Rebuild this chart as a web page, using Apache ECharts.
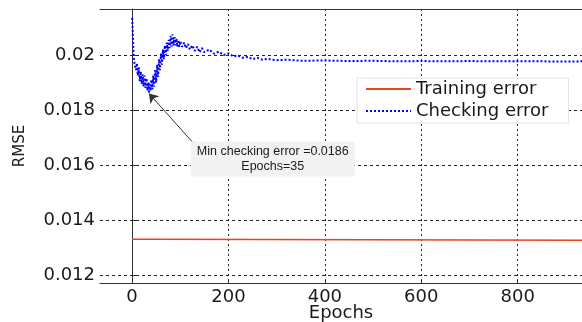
<!DOCTYPE html>
<html>
<head>
<meta charset="utf-8">
<script src="https://cdn.jsdelivr.net/npm/echarts@6/dist/echarts.min.js"></script>
<style>html,body{margin:0;padding:0;background:#fff}#c{width:582px;height:322px}</style>
</head>
<body>
<div id="c"></div>
<script>
const xTicks = [0, 200, 400, 600, 800];
const yTicks = [0.012, 0.014, 0.016, 0.018, 0.02];
const yTickLabels = ['0.012', '0.014', '0.016', '0.018', '0.02'];

const trainEpochs = [0, 44, 44, 934];
const trainRmse = [0.01330, 0.01330, 0.01326, 0.01326];

const checkEpochs = [0, 1, 2, 3, 4, 6, 8, 10, 12, 14, 16, 18, 20, 22, 24, 26, 28, 30, 32, 34, 35, 36, 38, 40, 42, 44, 46, 48, 50, 52, 54, 56, 58, 60, 62, 64, 66, 68, 70, 72, 74, 76, 78, 80, 82, 84, 86, 88, 90, 92, 94, 96, 98, 100, 104, 108, 112, 116, 120, 125, 130, 135, 140, 145, 150, 160, 170, 180, 190, 200, 210, 220, 230, 240, 250, 260, 270, 280, 300, 320, 350, 400, 450, 500, 550, 600, 650, 700, 750, 800, 850, 900, 934];
const checkRmse = [0.02135, 0.02110, 0.02060, 0.02010, 0.01980, 0.01962, 0.01945, 0.01970, 0.01925, 0.01955, 0.01905, 0.01940, 0.01895, 0.01930, 0.01885, 0.01925, 0.01880, 0.01915, 0.01870, 0.01900, 0.01860, 0.01895, 0.01870, 0.01910, 0.01875, 0.01925, 0.01885, 0.01945, 0.01900, 0.01965, 0.01920, 0.01985, 0.01945, 0.02005, 0.01965, 0.02020, 0.01985, 0.02035, 0.02000, 0.02045, 0.02015, 0.02055, 0.02025, 0.02070, 0.02030, 0.02075, 0.02035, 0.02065, 0.02035, 0.02060, 0.02030, 0.02055, 0.02030, 0.02050, 0.02030, 0.02045, 0.02025, 0.02040, 0.02020, 0.02035, 0.02015, 0.02030, 0.02010, 0.02025, 0.02010, 0.02020, 0.02005, 0.02012, 0.02000, 0.02006, 0.01995, 0.01998, 0.01990, 0.01993, 0.01985, 0.01990, 0.01983, 0.01986, 0.01981, 0.01983, 0.01979, 0.01980, 0.01978, 0.01979, 0.01977, 0.01978, 0.01977, 0.01978, 0.01977, 0.01977, 0.01977, 0.01976, 0.01977];

const minEpoch = 35;
const minValue = 0.0186;
const noteAnchor = [127, 0.0168];
const noteText = 'Min checking error =0.0186\nEpochs=35';

const trainData = trainEpochs.map((e, i) => [e, trainRmse[i]]);
const checkData = checkEpochs.map((e, i) => [e, checkRmse[i]]);

const txt = '#1a1a1a';
const chart = echarts.init(document.getElementById('c'), null, {renderer: 'canvas'});
chart.setOption({
  animation: false,
  backgroundColor: '#ffffff',
  grid: {left: 100, right: 0, top: 9, bottom: 39, containLabel: false, outerBoundsMode: 'none'},
  xAxis: [{
    type: 'value', min: -66.5, max: 933.5,
    name: 'Epochs', nameLocation: 'middle', nameGap: 21, nameMoveOverlap: false,
    nameTextStyle: {fontFamily: 'DejaVu Sans', fontSize: 18, color: txt},
    axisLine: {show: true, lineStyle: {color: '#333', width: 1}},
    axisTick: {show: true, inside: true, length: 4, customValues: xTicks, lineStyle: {color: '#333'}},
    axisLabel: {customValues: xTicks, margin: 5, fontFamily: 'DejaVu Sans', fontSize: 18, color: txt},
    splitLine: {show: true, lineStyle: {color: '#222', type: [2, 3], width: 1}}
  }, {
    type: 'value', position: 'top', min: -66.5, max: 933.5,
    axisLine: {show: true, onZero: false, lineStyle: {color: '#333', width: 1}},
    axisTick: {show: false}, axisLabel: {show: false}, splitLine: {show: false}
  }],
  yAxis: {
    type: 'value', min: 0.0117091, max: 0.0216727,
    name: 'RMSE', nameLocation: 'middle', nameGap: 72, nameMoveOverlap: false,
    nameTextStyle: {fontFamily: 'DejaVu Sans', fontSize: 15, color: txt},
    axisLine: {show: true, lineStyle: {color: '#333', width: 1}},
    axisTick: {show: true, inside: true, length: 4, customValues: yTicks, lineStyle: {color: '#333'}},
    axisLabel: {customValues: yTicks, margin: 5, fontFamily: 'DejaVu Sans', fontSize: 18, color: txt,
      formatter: v => { const i = yTicks.findIndex(t => Math.abs(t - v) < 1e-9); return i >= 0 ? yTickLabels[i] : ''; }},
    splitLine: {show: true, lineStyle: {color: '#222', type: [3, 3], width: 1}}
  },
  legend: {
    orient: 'vertical', left: 357, top: 78,
    padding: [2, 20, 3, 8], itemGap: 4, itemWidth: 45, itemHeight: 18,
    backgroundColor: '#ffffff', borderColor: '#e4e4e4', borderWidth: 1,
    itemStyle: {opacity: 0},
    textStyle: {fontFamily: 'DejaVu Sans', fontSize: 18, color: txt},
    data: ['Training error', 'Checking error']
  },
  series: [{
    name: 'Training error', type: 'line', data: trainData, showSymbol: false, symbol: 'none',
    lineStyle: {color: '#e8431f', width: 1.5}, itemStyle: {color: '#e8431f'}
  }, {
    name: 'Checking error', type: 'line', data: checkData, showSymbol: false, symbol: 'none',
    lineStyle: {color: '#0000ff', width: 2, type: 'dotted'}, itemStyle: {color: '#0000ff'},
    markLine: {
      silent: true, symbol: ['none', 'arrow'], symbolSize: 9,
      lineStyle: {color: '#333', width: 1, type: 'solid'}, label: {show: false},
      data: [[{coord: noteAnchor}, {coord: [minEpoch, minValue]}]]
    },
    markPoint: {
      silent: true, symbol: 'circle', symbolSize: 1, itemStyle: {color: 'rgba(0,0,0,0)'},
      label: {
        show: true, position: [80, -1], align: 'center', verticalAlign: 'top',
        formatter: noteText, fontFamily: 'Liberation Sans', fontSize: 12.5, lineHeight: 15,
        color: txt, backgroundColor: '#f2f2f2', padding: [3, 6, 2, 6]
      },
      data: [{coord: noteAnchor}]
    }
  }]
});
</script>
</body>
</html>
